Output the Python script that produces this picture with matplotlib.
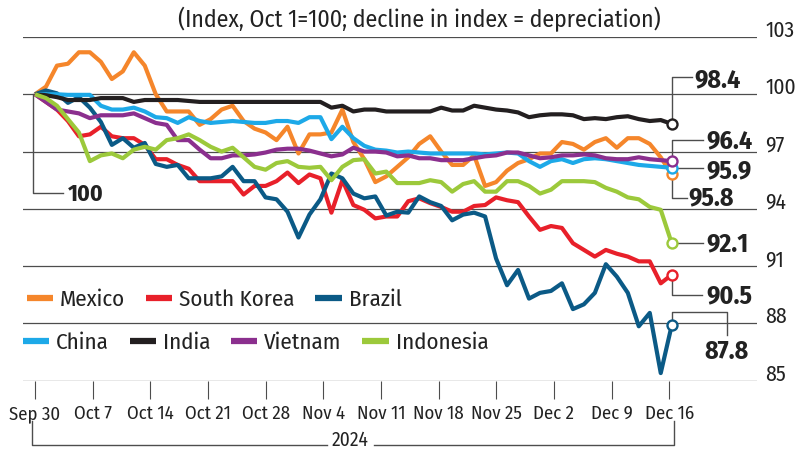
import numpy as np
import matplotlib
matplotlib.use("Agg")
import matplotlib.pyplot as plt
from matplotlib import font_manager
from matplotlib.lines import Line2D

# index values, Oct 1st = 100, one point per trading day
mexico = [
    100.0, 100.4, 101.5, 101.6, 102.2, 102.2, 101.7, 100.8, 101.2, 102.2,
    101.5, 100.0, 99.1, 99.1, 99.1, 98.4, 98.7, 99.2, 99.4, 98.6,
    98.2, 98.0, 97.6, 98.3, 96.9, 97.9, 97.9, 98.0, 99.2, 97.5,
    96.6, 95.4, 95.7, 96.2, 96.7, 97.4, 97.8, 97.0, 96.3, 96.3,
    96.8, 95.2, 95.4, 96.0, 96.4, 96.6, 96.9, 96.9, 97.5, 97.4,
    97.1, 97.5, 97.7, 97.2, 97.7, 97.7, 97.4, 96.7, 95.8]
south_korea = [
    100.0, 99.6, 99.2, 98.6, 97.8, 97.9, 98.3, 97.8, 97.7, 97.7,
    97.35, 96.6, 96.6, 96.3, 96.1, 95.45, 95.45, 95.45, 95.45, 94.75,
    95.2, 95.2, 95.45, 95.9, 95.35, 95.8, 95.6, 93.8, 95.5, 94.2,
    93.95, 93.5, 93.6, 93.6, 94.4, 94.55, 94.3, 94.1, 93.85, 93.85,
    94.15, 94.2, 94.6, 94.45, 94.35, 93.6, 92.9, 93.1, 93.0, 92.2,
    91.85, 91.5, 91.85, 91.65, 91.5, 91.25, 91.25, 90.1, 90.55]
brazil = [
    100.0, 100.2, 100.05, 99.55, 99.85, 99.3, 98.55, 97.35, 97.7, 97.2,
    97.45, 96.35, 96.2, 96.3, 95.6, 95.6, 95.6, 95.7, 96.2, 95.45,
    95.45, 94.6, 94.5, 93.85, 92.5, 93.7, 94.5, 95.85, 95.6, 94.8,
    94.55, 94.65, 93.65, 93.85, 93.8, 94.65, 94.35, 94.15, 93.4, 93.7,
    93.8, 93.6, 91.4, 90.0, 90.8, 89.3, 89.6, 89.7, 90.1, 88.75,
    89.0, 89.6, 91.1, 90.45, 89.6, 87.85, 88.55, 85.4, 87.9]
china = [
    100.0, 100.0, 100.0, 99.97, 99.97, 99.97, 99.4, 99.2, 99.2, 99.3,
    99.1, 98.8, 98.75, 98.5, 98.8, 98.6, 98.5, 98.55, 98.6, 98.55,
    98.5, 98.5, 98.6, 98.6, 98.5, 98.8, 98.8, 97.65, 98.3, 97.7,
    97.3, 97.1, 97.05, 96.95, 97.0, 96.95, 96.9, 96.9, 96.9, 96.9,
    96.9, 96.85, 96.9, 96.95, 96.9, 96.5, 96.2, 96.5, 96.6, 96.4,
    96.6, 96.65, 96.6, 96.5, 96.4, 96.3, 96.25, 96.2, 96.15]
india = [
    100.0, 99.95, 99.85, 99.7, 99.7, 99.7, 99.8, 99.8, 99.8, 99.6,
    99.7, 99.7, 99.7, 99.7, 99.65, 99.6, 99.6, 99.6, 99.6, 99.6,
    99.6, 99.6, 99.6, 99.6, 99.6, 99.6, 99.6, 99.3, 99.4, 99.1,
    99.2, 99.2, 99.1, 99.1, 99.1, 99.1, 99.1, 99.3, 99.15, 99.15,
    99.4, 99.3, 99.2, 99.15, 99.05, 98.8, 98.9, 98.95, 98.95, 98.9,
    98.7, 98.75, 98.7, 98.8, 98.85, 98.7, 98.6, 98.65, 98.45]
vietnam = [
    100.0, 99.6, 99.2, 99.1, 99.0, 98.75, 98.9, 98.9, 98.9, 99.0,
    98.75, 98.5, 98.4, 97.6, 97.6, 97.1, 96.65, 96.65, 96.8, 96.8,
    96.85, 96.95, 97.1, 97.15, 97.15, 97.05, 96.9, 96.75, 96.85, 97.2,
    97.0, 97.0, 96.95, 96.75, 96.8, 96.65, 96.65, 96.55, 96.55, 96.55,
    96.65, 96.75, 96.8, 96.95, 96.95, 96.8, 96.65, 96.7, 96.8, 96.8,
    96.85, 96.8, 96.65, 96.6, 96.6, 96.7, 96.6, 96.55, 96.5]
indonesia = [
    100.0, 99.8, 99.4, 98.7, 98.0, 96.5, 96.8, 96.9, 96.65, 97.1,
    97.25, 97.1, 97.6, 97.7, 97.9, 97.6, 97.25, 97.0, 97.2, 96.7,
    96.2, 96.05, 96.4, 96.5, 96.2, 96.15, 96.2, 95.5, 96.2, 96.55,
    96.6, 95.85, 95.95, 95.35, 95.35, 95.35, 95.5, 95.4, 94.9, 95.3,
    95.45, 94.9, 94.9, 95.45, 95.45, 95.2, 94.8, 95.0, 95.45, 95.45,
    95.45, 95.4, 95.1, 94.9, 94.6, 94.5, 94.1, 93.95, 92.2]

countries = ["Mexico", "South Korea", "Brazil", "China", "India", "Vietnam", "Indonesia"]
series = [mexico, south_korea, brazil, china, india, vietnam, indonesia]
colors = ["#F5862B", "#E8202A", "#0B5A86", "#1DA9E8", "#231F20", "#8B2F8E", "#9CC93B"]
end_labels = ["95.8", "90.5", "87.8", "95.9", "98.4", "96.4", "92.1"]

# x axis in days since Sep 30th, points spread evenly over the period
tick_days = [0, 7, 14, 21, 28, 35, 42, 49, 56, 63, 70, 77]
tick_labels = ["Sep 30", "Oct 7", "Oct 14", "Oct 21", "Oct 28", "Nov 4", "Nov 11",
               "Nov 18", "Nov 25", "Dec 2", "Dec 9", "Dec 16"]
y_ticks = [85, 88, 91, 94, 97, 100, 103]
x_days = np.linspace(0, 77.3, len(mexico))

# leader lines for the end labels, pixel offsets from the last point
leaders = {
    "India": ([(0, 5), (0, 47), (20, 47)], (23, 46.5), "left"),
    "Vietnam": ([(0, 5), (0, 21.5), (31.5, 21.5)], (35, 22.5), "left"),
    "China": ([(5, 0), (31.5, 0)], (35, -0.5), "left"),
    "Mexico": ([(0, -5), (0, -23.3), (15, -23.3)], (16.3, -21.5), "left"),
    "Indonesia": ([(5, 0), (31, 0)], (34.5, 1.5), "left"),
    "South Korea": ([(0, -5), (0, -20.7), (30.3, -20.7)], (34.3, -18.5), "left"),
    "Brazil": ([(0, 5), (0, 13.3), (55.6, 13.3), (55.6, -10)], (54.3, -24), "center"),
}

W, H = 798, 449
GRID = "#4d4d4d"
TXT = "#222222"

# condensed face close to the original, if one is installed
names = {f.name for f in font_manager.fontManager.ttflist}
face = "Roboto"
for cand in ["Fira Sans Condensed", "Roboto Condensed", "IBM Plex Sans Condensed",
             "Barlow Semi Condensed", "Asap Condensed"]:
    if cand in names:
        face = cand
        break
plt.rcParams["font.family"] = [face, "DejaVu Sans"]


def px_path(ax, x, y, offsets):
    base = ax.transData.transform((x, y))
    pts = base + np.array(offsets, dtype=float)
    return ax.transData.inverted().transform(pts)


def fpx(x, y):
    return x / W, 1 - y / H


fig = plt.figure(figsize=(W / 100, H / 100), dpi=100)
ax = fig.add_axes([23 / W, 1 - 380.7 / H, (756.7 - 23) / W, (380.7 - 37) / H])
ax.set_xlim(-12 / 8.237, (756.7 - 35) / 8.237)
ax.set_ylim(85, 103)
for s in ax.spines.values():
    s.set_visible(False)

for yv in y_ticks:
    ax.axhline(yv, color=GRID, lw=0.9, zorder=1)

ax.set_yticks(y_ticks)
ax.yaxis.tick_right()
ax.tick_params(axis="y", length=0, pad=6, labelsize=15.5, labelcolor=TXT)
for lbl in ax.get_yticklabels():
    lbl.set_va("baseline")

ax.set_xticks(tick_days)
ax.set_xticklabels(tick_labels)
ax.tick_params(axis="x", length=13, width=0.8, color=GRID, pad=4.5,
               labelsize=13.5, labelcolor=TXT)

# "100" start label
p = px_path(ax, x_days[0], 100, [(-1.7, 0), (-1.7, -98.8), (28.3, -98.8)])
ax.plot(p[:, 0], p[:, 1], color=GRID, lw=1, zorder=2, clip_on=False)
ax.annotate("100", (x_days[0], 100), xytext=(33, -98), textcoords="offset pixels",
            ha="left", va="center_baseline", fontsize=17, fontweight="bold", color=TXT)

# lines
draw_order = [4, 5, 3, 6, 0, 1, 2]
for k in draw_order:
    ax.plot(x_days, series[k], color=colors[k], lw=3, zorder=3 + k * 0.1,
            solid_capstyle="butt")

# end circles and labels
for k in [4, 6, 1, 2, 0, 5, 3]:
    name = countries[k]
    xe, ye = x_days[-1], series[k][-1]
    path, (tx, ty), ha = leaders[name]
    p = px_path(ax, xe, ye, path)
    ax.plot(p[:, 0], p[:, 1], color=GRID, lw=1, zorder=4, clip_on=False)
    ax.plot(xe, ye, "o", ms=7.2, mfc="white", mec=colors[k], mew=1.7,
            zorder=5 + k * 0.1, clip_on=False)
    ax.annotate(end_labels[k], (xe, ye), xytext=(tx, ty), textcoords="offset pixels",
                ha=ha, va="center_baseline", fontsize=18.5, fontweight="bold", color=TXT)

# legend, two rows
legend_rows = [([0, 1, 2], (27, 300)), ([3, 4, 5, 6], (23, 342.3))]
for row, (lx, ly) in legend_rows:
    handles = [Line2D([], [], color=colors[k], lw=4.5, solid_capstyle="butt") for k in row]
    leg = fig.legend(handles, [countries[k] for k in row], ncol=len(row), loc="center left",
                     bbox_to_anchor=fpx(lx, ly), bbox_transform=fig.transFigure,
                     frameon=False, fontsize=16.5, handlelength=1.15, handletextpad=0.3,
                     columnspacing=0.9, borderpad=0, borderaxespad=0)
    for t in leg.get_texts():
        t.set_color(TXT)

# title
fig.text(*fpx(419.5, 27), "(Index, Oct 1=100; decline in index = depreciation)",
         ha="center", va="baseline", fontsize=17.2, color=TXT)

# 2024 bracket under the dates
for xs, ys in [([31.7, 31.7, 327], [421, 445, 445]), ([374, 674, 674], [445, 445, 421])]:
    fig.add_artist(Line2D([x / W for x in xs], [1 - y / H for y in ys], color=GRID, lw=1,
                          transform=fig.transFigure))
fig.text(*fpx(350.5, 446), "2024", ha="center", va="baseline", fontsize=14, color=TXT)

fig.savefig("out.png", dpi=100, facecolor="white")
